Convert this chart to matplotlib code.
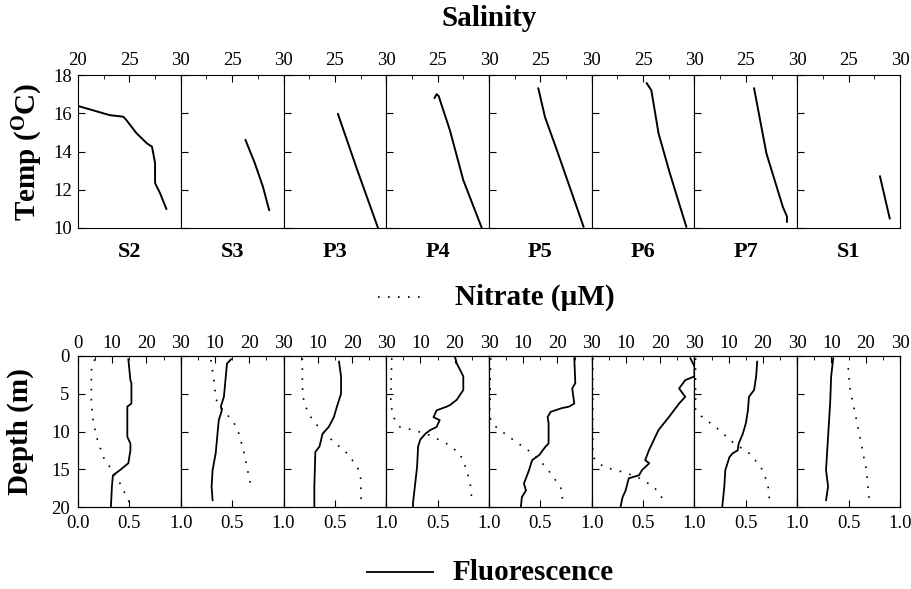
import numpy as np
import matplotlib
matplotlib.use("Agg")
import matplotlib.pyplot as plt

plt.rcParams['font.family'] = ['Liberation Serif', 'DejaVu Serif']
plt.rcParams['mathtext.fontset'] = 'stix'

stations = ["S2", "S3", "P3", "P4", "P5", "P6", "P7", "S1"]

# salinity / temperature profiles (top row)
sal = [
    [20.0, 23.1, 24.4, 24.7, 25.7, 26.7, 27.2, 27.5, 27.5, 28.0, 28.6],
    [26.3, 27.2, 28.0, 28.6],
    [25.3, 27.2, 29.2],
    [24.7, 24.9, 25.1, 26.2, 27.5, 29.3],
    [24.8, 25.45, 26.6, 29.2],
    [25.35, 25.8, 26.5, 27.6, 29.2],
    [25.8, 27.0, 28.6, 29.0, 29.0],
    [28.05, 29.0],
]
temp = [
    [16.38, 15.9, 15.82, 15.65, 14.95, 14.43, 14.25, 13.4, 12.35, 11.8, 11.0],
    [14.6, 13.4, 12.16, 10.94],
    [15.96, 13.0, 10.0],
    [16.8, 17.0, 16.9, 15.1, 12.5, 10.0],
    [17.3, 15.8, 14.08, 10.07],
    [17.57, 17.2, 14.95, 12.86, 10.07],
    [17.3, 13.9, 11.1, 10.6, 10.33],
    [12.7, 10.5],
]

# fluorescence profiles (bottom row, solid)
fl = [
    [0.49, 0.51, 0.52, 0.52, 0.48, 0.48, 0.51, 0.51, 0.49, 0.41, 0.34, 0.33, 0.32],
    [0.49, 0.45, 0.42, 0.39, 0.40, 0.37, 0.34, 0.31, 0.30, 0.31],
    [0.54, 0.56, 0.56, 0.56, 0.52, 0.49, 0.44, 0.38, 0.35, 0.31, 0.30, 0.30],
    [0.67, 0.686, 0.75, 0.75, 0.686, 0.62, 0.59, 0.49, 0.46, 0.52, 0.49, 0.43, 0.38,
     0.33, 0.31, 0.30, 0.26, 0.26],
    [0.83, 0.84, 0.81, 0.83, 0.78, 0.71, 0.60, 0.57, 0.58, 0.58, 0.55, 0.49, 0.42,
     0.39, 0.34, 0.36, 0.32, 0.31],
    [0.96, 1.0, 1.0, 0.91, 0.85, 0.91, 0.85, 0.75, 0.65, 0.556, 0.52, 0.56, 0.49,
     0.46, 0.36, 0.33, 0.30, 0.28],
    [0.61, 0.60, 0.58, 0.53, 0.52, 0.50, 0.47, 0.43, 0.42, 0.37, 0.34, 0.30, 0.29, 0.27],
    [0.35, 0.33, 0.32, 0.30, 0.28, 0.30, 0.28],
]
fl_depth = [
    [0.44, 3.2, 3.6, 6.3, 6.7, 10.7, 11.6, 12.5, 14.2, 15.1, 15.8, 17.3, 20.0],
    [0.44, 1.0, 5.4, 6.7, 7.2, 8.5, 12.9, 15.1, 17.3, 19.1],
    [0.75, 2.7, 4.5, 5.0, 6.7, 8.1, 9.4, 10.3, 12.0, 12.7, 17.3, 20.0],
    [0.18, 0.97, 2.7, 4.5, 5.8, 6.5, 6.7, 7.2, 8.1, 8.5, 9.4, 9.8, 10.3,
     11.1, 12.0, 14.7, 19.5, 20.0],
    [0.3, 3.6, 4.3, 6.3, 6.7, 6.9, 7.4, 8.1, 8.9, 11.6, 12.0, 13.1, 13.8,
     15.1, 16.9, 17.8, 18.7, 20.0],
    [0.3, 1.4, 2.7, 3.2, 4.3, 5.4, 6.3, 8.1, 9.8, 12.5, 13.8, 14.2, 15.1,
     15.8, 16.2, 17.8, 18.7, 20.0],
    [0.75, 2.7, 4.5, 5.4, 7.2, 8.9, 10.3, 11.6, 12.5, 12.9, 13.4, 15.1, 17.3, 20.0],
    [0.3, 2.7, 6.3, 10.7, 15.1, 17.3, 19.1],
]

# nitrate profiles (bottom row, dotted)
no3 = [
    [4.9, 3.9, 3.9, 4.4, 5.4, 7.4, 9.3, 12.3, 15.2],
    [8.8, 9.7, 10.2, 10.7, 13.6, 15.6, 17.0, 18.5, 19.5, 20.5],
    [5.5, 5.5, 6.0, 8.0, 10.9, 14.3, 18.6, 21.6, 22.5, 22.7],
    [1.6, 1.3, 2.1, 4.0, 7.9, 12.8, 17.6, 21.5, 23.5, 24.5, 25.0],
    [0.5, 0.2, 1.5, 5.8, 12.7, 16.6, 19.5, 21.4, 21.4],
    [0.3, 0.3, 3.5, 9.3, 13.2, 18.1, 21.0],
    [0.3, 0.3, 2.3, 6.2, 11.1, 16.0, 19.4, 21.4, 21.9],
    [14.9, 15.3, 16.3, 17.3, 18.3, 19.2, 20.2, 21.0],
]
no3_depth = [
    [0.44, 1.9, 6.3, 8.5, 10.7, 13.4, 14.7, 16.9, 19.6],
    [0.53, 3.2, 5.4, 6.3, 7.8, 8.9, 10.3, 12.9, 15.1, 17.3],
    [0.3, 4.1, 6.3, 8.1, 9.8, 11.2, 12.9, 14.7, 16.0, 19.6],
    [0.3, 6.3, 8.1, 9.4, 9.8, 10.5, 11.6, 12.9, 15.1, 16.9, 19.1],
    [0.3, 8.1, 9.2, 10.7, 12.9, 14.7, 16.5, 17.8, 19.1],
    [0.3, 13.4, 14.7, 15.4, 16.0, 17.3, 19.1],
    [0.3, 7.2, 8.1, 9.4, 11.4, 12.9, 14.7, 16.9, 19.1],
    [1.6, 4.1, 6.3, 8.5, 10.7, 12.9, 15.1, 19.1],
]

W, H = 912, 589
fig = plt.figure(figsize=(W / 100, H / 100), dpi=100)

x0, pw = 78, 102.75
tick_fs = 13.5
lab_fs = 21
dots = (0, (1, 5))

def place(i, top, h):
    return [(x0 + i * pw) / W, 1 - (top + h) / H, pw / W, h / H]

for i in range(8):
    # top row: temperature vs salinity
    ax = fig.add_axes(place(i, 75, 153))
    ax.plot(sal[i], temp[i], color='k', lw=1.4)
    ax.set_xlim(20, 30)
    ax.set_ylim(10, 18)
    ax.xaxis.tick_top()
    ax.set_xticks([20, 25, 30])
    ax.set_xticks([22.5, 27.5], minor=True)
    ax.set_xticklabels(['20' if i == 0 else '', '25', '30'])
    ax.set_yticks([10, 12, 14, 16, 18])
    if i == 0:
        ax.set_yticklabels(['10', '12', '14', '16', '18'])
        ax.set_ylabel('Temp ($\\mathregular{^{O}}$C)', fontsize=lab_fs,
                      fontweight='bold', labelpad=6)
    else:
        ax.set_yticklabels([])
    ax.tick_params(direction='in', labelsize=tick_fs, length=5, pad=4)
    ax.tick_params(which='minor', direction='in', length=3)
    ax.text(0.5, -0.16, stations[i], transform=ax.transAxes, ha='center', va='center',
            fontsize=16, fontweight='bold')

    # bottom row: fluorescence and nitrate vs depth
    axf = fig.add_axes(place(i, 356, 151))
    axf.plot(fl[i], fl_depth[i], color='k', lw=1.3)
    axf.set_xlim(0, 1)
    axf.set_ylim(20, 0)
    axf.set_xticks([0, 0.5, 1.0])
    axf.set_xticklabels(['0.0' if i == 0 else '', '0.5', '1.0'])
    axf.set_yticks([0, 5, 10, 15, 20])
    if i == 0:
        axf.set_yticklabels(['0', '5', '10', '15', '20'])
        axf.set_ylabel('Depth (m)', fontsize=lab_fs, fontweight='bold', labelpad=12)
    else:
        axf.set_yticklabels([])
    axf.tick_params(direction='in', labelsize=tick_fs, length=5, pad=6)

    axn = axf.twiny()
    axn.plot(no3[i], no3_depth[i], color='k', lw=1.2, ls=dots)
    axn.set_xlim(0, 30)
    axn.set_xticks([0, 10, 20, 30])
    axn.set_xticks([5, 15, 25], minor=True)
    axn.set_xticklabels(['0' if i == 0 else '', '10', '20', '30'])
    axn.tick_params(direction='in', labelsize=tick_fs, length=5, pad=3)
    axn.tick_params(which='minor', direction='in', length=3)

fig.text(489 / W, 1 - 18 / H, 'Salinity', ha='center', va='center',
         fontsize=lab_fs, fontweight='bold')

# legend entries drawn as lines in figure coordinates
fig.add_artist(plt.Line2D([378 / W, 422 / W], [1 - 297 / H, 1 - 297 / H],
                          color='k', lw=1.2, ls=dots))
fig.text(455 / W, 1 - 297 / H, 'Nitrate (\u00b5M)', ha='left', va='center',
         fontsize=lab_fs, fontweight='bold')
fig.add_artist(plt.Line2D([367 / W, 433 / W], [1 - 572 / H, 1 - 572 / H],
                          color='k', lw=1.3))
fig.text(453 / W, 1 - 572 / H, 'Fluorescence', ha='left', va='center',
         fontsize=lab_fs, fontweight='bold')

fig.savefig('out.png', dpi=100)
